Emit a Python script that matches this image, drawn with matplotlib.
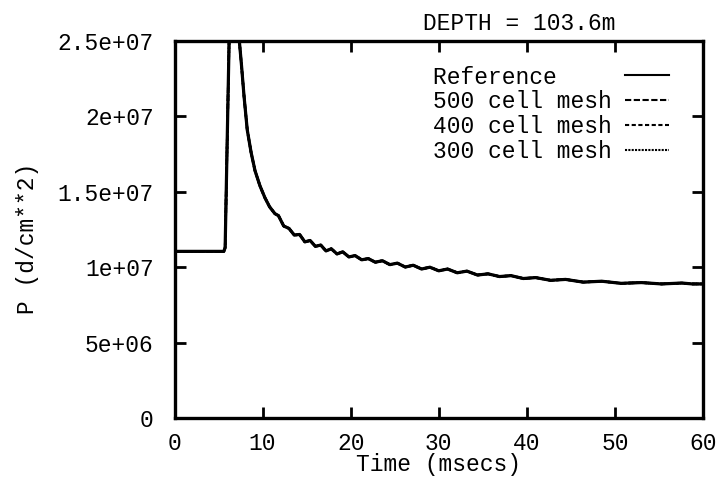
import matplotlib
matplotlib.use("Agg")
import matplotlib.pyplot as plt
from matplotlib.ticker import FixedLocator, FixedFormatter

plt.rcParams['font.family'] = ['Liberation Mono', 'DejaVu Sans Mono']

# ---- data (time in msecs, pressure in 1e6 d/cm**2) ----
t_ref = [0, 5.6, 5.75, 6.2, 6.5, 7.0, 7.36, 7.59, 7.9, 8.26, 8.7, 9.14, 9.7,
         10.27, 10.8, 11.4, 11.8, 12.4, 13.0, 13.6, 14.2, 14.8, 15.4, 16.0,
         16.6, 17.2, 17.8, 18.45, 19.1, 19.8, 20.5, 21.25, 22.0, 22.8, 23.6,
         24.45, 25.3, 26.2, 27.1, 28.05, 29.0, 30.0, 31.0, 32.1, 33.2, 34.4,
         35.6, 36.9, 38.2, 39.6, 41.0, 42.7, 44.4, 46.4, 48.5, 50.7, 53.0,
         55.3, 57.6, 58.8, 60]
p_ref = [11.05, 11.05, 11.3, 25.0, 30.0, 30.0, 25.0, 23.5, 21.3, 19.1, 17.6,
         16.4, 15.4, 14.6, 14.0, 13.55, 13.42, 12.73, 12.57, 12.13, 12.17,
         11.68, 11.77, 11.38, 11.47, 11.08, 11.22, 10.88, 11.02, 10.68, 10.77,
         10.49, 10.57, 10.33, 10.43, 10.17, 10.27, 10.01, 10.13, 9.88, 10.0,
         9.76, 9.88, 9.63, 9.74, 9.48, 9.56, 9.38, 9.44, 9.25, 9.31, 9.13,
         9.19, 9.01, 9.07, 8.93, 8.98, 8.89, 8.95, 8.89, 8.89]

# the three mesh runs lie right on top of the reference curve
t_500, p_500 = t_ref, p_ref
t_400, p_400 = t_ref, p_ref
t_300, p_300 = t_ref, p_ref

y_ticks = [0, 5e6, 1e7, 1.5e7, 2e7, 2.5e7]
y_labels = ['0', '5e+06', '1e+07', '1.5e+07', '2e+07', '2.5e+07']
x_ticks = [0, 10, 20, 30, 40, 50, 60]

fs = 16.5

fig = plt.figure(figsize=(7.21, 4.82), dpi=100)
ax = fig.add_axes([174.5 / 721, 64 / 482, 528.5 / 721, 377 / 482])

ax.plot(t_300, [v * 1e6 for v in p_300], color='black', lw=1.8,
        dashes=(1, 0.6), label='300 cell mesh')
ax.plot(t_400, [v * 1e6 for v in p_400], color='black', lw=1.8,
        dashes=(2, 1.2), label='400 cell mesh')
ax.plot(t_500, [v * 1e6 for v in p_500], color='black', lw=1.8,
        dashes=(3, 1.2), label='500 cell mesh')
ax.plot(t_ref, [v * 1e6 for v in p_ref], color='black', lw=2.3,
        label='Reference    ')

ax.set_xlim(0, 60)
ax.set_ylim(0, 2.5e7)
ax.xaxis.set_major_locator(FixedLocator(x_ticks))
ax.yaxis.set_major_locator(FixedLocator(y_ticks))
ax.yaxis.set_major_formatter(FixedFormatter(y_labels))

ax.tick_params(direction='in', length=8, width=2, labelsize=fs,
               top=True, right=True, pad=10)
ax.tick_params(axis='y', pad=15)
for s in ax.spines.values():
    s.set_linewidth(2.4)

# x label sits just under the tick numbers, as in the original
fig.text(438.75 / 721, 1 - 465 / 482, 'Time (msecs)', fontsize=fs,
         ha='center', va='center')
fig.text(28 / 721, 1 - 238 / 482, 'P (d/cm**2)', rotation=90,
         fontsize=fs, ha='center', va='center')
fig.text(519 / 721, 1 - 24 / 482, 'DEPTH = 103.6m', fontsize=fs,
         ha='center', va='center')

h, l = ax.get_legend_handles_labels()
leg = ax.legend(h[::-1], l[::-1], loc='upper left',
                bbox_to_anchor=(0.489, 0.935), frameon=False,
                markerfirst=False, fontsize=fs, handlelength=1.9,
                handletextpad=0.6, labelspacing=0.08, borderpad=0,
                borderaxespad=0)
for line in leg.get_lines():
    line.set_linewidth(1.5)

fig.savefig('out.png', dpi=100)
